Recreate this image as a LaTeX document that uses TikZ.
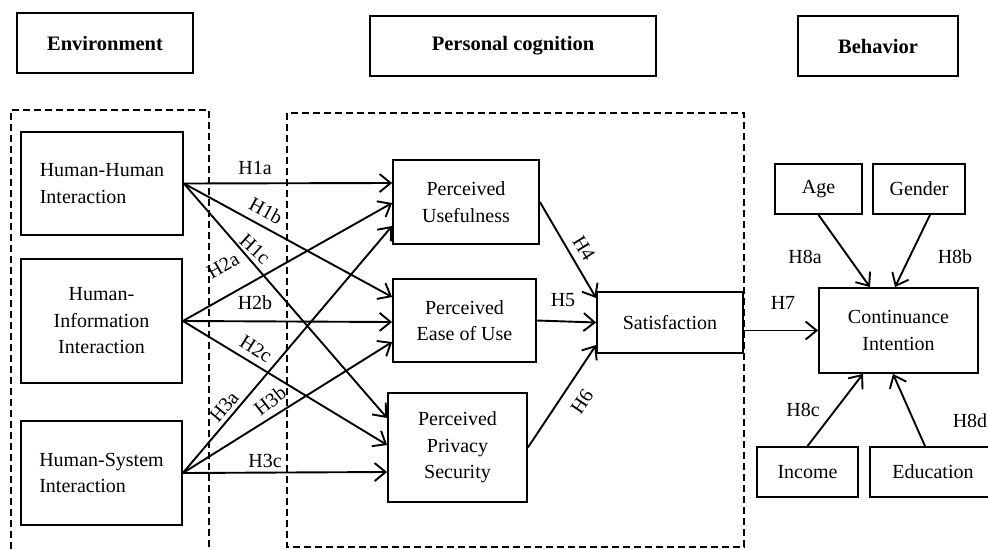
\documentclass[tikz,border=0pt]{standalone}
\usepackage{fontspec}
\setmainfont{Liberation Serif}
\usetikzlibrary{arrows.meta}
\begin{document}
\begin{tikzpicture}[x=1pt,y=-1pt,
  box/.style={draw, line width=1.8pt, inner sep=0pt, align=center, font=\fontsize{20}{26.5}\selectfont},
  headbox/.style={draw, line width=1.8pt, inner sep=0pt, align=center, font=\fontsize{20.5}{24}\selectfont\bfseries},
  arr/.style={line width=1.9pt, -{Straight Barb[length=11pt,width=18pt]}},
  lbl/.style={inner sep=0pt, font=\fontsize{20}{22}\selectfont},
  dashbox/.style={line width=1.4pt, dash pattern=on 7pt off 4pt}]
\useasboundingbox (0,0) rectangle (988,549);
% header boxes
\node[headbox, minimum width=176pt, minimum height=60pt] (env) at (105,43) {Environment};
\node[headbox, minimum width=286pt, minimum height=60pt] (pc) at (513,46) {Personal cognition};
\node[headbox, minimum width=160pt, minimum height=60pt] (beh) at (878,46) {Behavior};
% dashed groups
\draw[dashbox] (11,560) -- (11,110) -- (209,110) -- (209,560);
\draw[dashbox] (287,113) rectangle (744,547);
% environment boxes
\node[box, align=left, minimum width=162pt, minimum height=103pt] (hh) at (102,183.5) {Human-Human\\Interaction};
\node[box, minimum width=161pt, minimum height=124pt] (hi) at (101.5,321) {Human-\\Information\\Interaction};
\node[box, align=left, minimum width=161pt, minimum height=104pt] (hs) at (101.5,473) {Human-System\\Interaction};
% cognition boxes
\node[box, minimum width=146pt, minimum height=84pt] (pu) at (466,202) {Perceived\\Usefulness};
\node[box, minimum width=143pt, minimum height=83pt] (peou) at (464.5,320.5) {Perceived\\Ease of Use};
\node[box, minimum width=139pt, minimum height=109pt] (pps) at (457.5,447.5) {Perceived\\Privacy\\Security};
\node[box, minimum width=146pt, minimum height=61pt] (sat) at (670,322.5) {Satisfaction};
% behavior boxes
\node[box, minimum width=159pt, minimum height=85pt] (ci) at (898.5,330.5) {Continuance\\Intention};
\node[box, minimum width=87pt, minimum height=50pt] (age) at (818.5,189) {Age};
\node[box, minimum width=92pt, minimum height=50pt] (gen) at (919,189) {Gender};
\node[box, minimum width=101pt, minimum height=50pt] (inc) at (807.5,472) {Income};
\node[box, minimum width=126pt, minimum height=50pt] (edu) at (933,472) {Education};
% arrows H1-H3
\draw[arr] (hh.east) -- ([yshift=19pt]pu.west);
\draw[arr] (hh.east) -- ([yshift=23.5pt]peou.west);
\draw[arr] (hh.east) -- ([yshift=29.5pt]pps.west);
\draw[arr] (hi.east) -- ([yshift=-1pt]pu.west);
\draw[arr] (hi.east) -- ([yshift=-1.5pt]peou.west);
\draw[arr] (hi.east) -- ([yshift=2.5pt]pps.west);
\draw[arr] (hs.east) -- ([yshift=-24pt]pu.west);
\draw[arr] (hs.east) -- ([yshift=-21.5pt]peou.west);
\draw[arr] (hs.east) -- ([yshift=-24.5pt]pps.west);
% arrows H4-H6
\draw[arr] (pu.east) -- ([yshift=24.5pt]sat.west);
\draw[arr] (peou.east) -- (sat.west);
\draw[arr] (pps.east) -- ([yshift=-22.5pt]sat.west);
% H7, H8
\draw[arr] (sat.east |- ci.west) -- (ci.west);
\draw[arr] (age.south) -- ([xshift=-28.5pt]ci.north);
\draw[arr] ([xshift=11pt]gen.south) -- ([xshift=-3.5pt]ci.north);
\draw[arr] (inc.north) -- ([xshift=-35.5pt]ci.south);
\draw[arr] ([xshift=-8pt]edu.north) -- ([xshift=-5.5pt]ci.south);
% labels
\node[lbl] (l1a) at (255,168) {H1a};
\node[lbl, rotate=-28.5] (l1b) at (266,211) {H1b};
\node[lbl, rotate=-42] (l1c) at (255,249) {H1c};
\node[lbl, rotate=30] (l2a) at (223,266) {H2a};
\node[lbl] (l2b) at (255,303) {H2b};
\node[lbl, rotate=-32] (l2c) at (256,349) {H2c};
\node[lbl, rotate=50] (l3a) at (224,407) {H3a};
\node[lbl, rotate=38] (l3b) at (270,401) {H3b};
\node[lbl] (l3c) at (265,461) {H3c};
\node[lbl, rotate=-58] (l4) at (584,248) {H4};
\node[lbl] (l5) at (563,300) {H5};
\node[lbl, rotate=56] (l6) at (582,402) {H6};
\node[lbl] (l7) at (783,303) {H7};
\node[lbl] (l8a) at (805,257) {H8a};
\node[lbl] (l8b) at (955,257) {H8b};
\node[lbl] (l8c) at (803,410) {H8c};
\node[lbl] (l8d) at (970,421) {H8d};
\end{tikzpicture}
\end{document}
